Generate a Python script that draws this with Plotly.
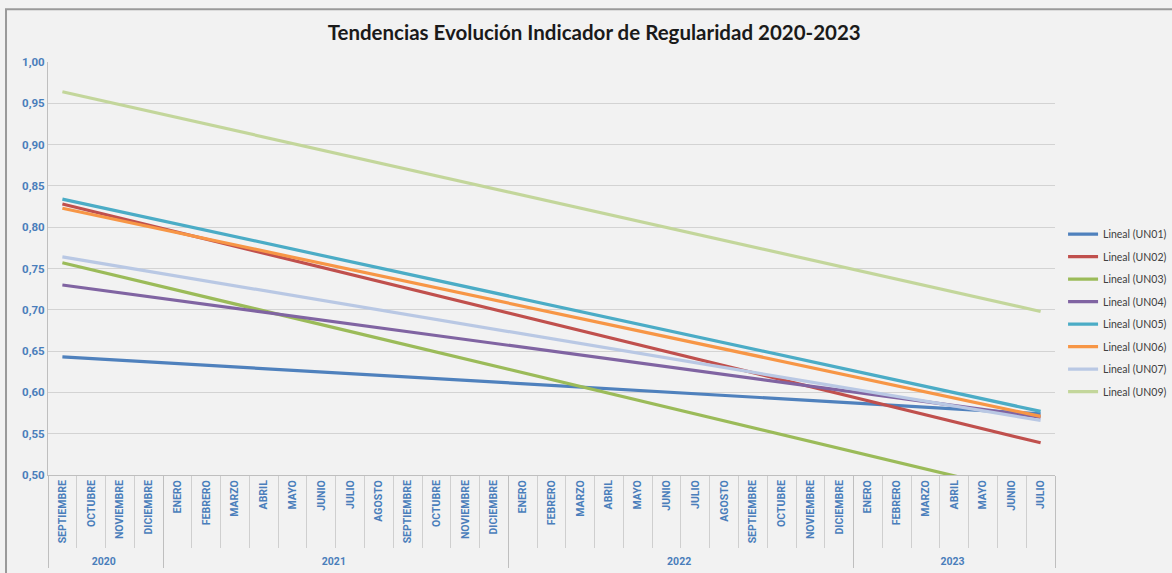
import plotly.graph_objects as go

years = ["2020"] * 4 + ["2021"] * 12 + ["2022"] * 12 + ["2023"] * 7
months = (["SEPTIEMBRE", "OCTUBRE", "NOVIEMBRE", "DICIEMBRE"]
          + ["ENERO", "FEBRERO", "MARZO", "ABRIL", "MAYO", "JUNIO", "JULIO",
             "AGOSTO", "SEPTIEMBRE", "OCTUBRE", "NOVIEMBRE", "DICIEMBRE"] * 2
          + ["ENERO", "FEBRERO", "MARZO", "ABRIL", "MAYO", "JUNIO", "JULIO"])

series_names = ["Lineal (UN01)", "Lineal (UN02)", "Lineal (UN03)", "Lineal (UN04)",
                "Lineal (UN05)", "Lineal (UN06)", "Lineal (UN07)", "Lineal (UN09)"]
start_values = [0.643, 0.828, 0.757, 0.730, 0.834, 0.823, 0.764, 0.964]
end_values = [0.574, 0.539, 0.474, 0.570, 0.577, 0.571, 0.566, 0.698]
colors = ["#4f81bd", "#c0504d", "#9bbb59", "#8064a2", "#4bacc6", "#f79646", "#b9c8e4", "#c3d69b"]

# make each month label unique per year (invisible zero-width suffix) so the
# multicategory axis keeps chronological order
year_list = sorted(set(years))
inner = [m + "\u200b" * year_list.index(y) for y, m in zip(years, months)]

fig = go.Figure()
fig.add_trace(go.Scatter(x=[years, inner], y=[None] * len(inner), mode="lines",
                         showlegend=False, hoverinfo="skip"))

for i, name in enumerate(series_names):
    fig.add_trace(go.Scatter(
        x=[[years[0], years[-1]], [inner[0], inner[-1]]],
        y=[start_values[i], end_values[i]],
        mode="lines", name=name, legendgroup=name,
        line=dict(color=colors[i], width=3.2),
    ))

lab_font = "Roboto, sans-serif"

fig.update_layout(
    width=1172, height=573,
    margin=dict(l=48, r=117, t=62, b=98, autoexpand=False),
    paper_bgcolor="#f2f2f2", plot_bgcolor="#f2f2f2",
    separators=",.",
    font=dict(family="Lato, Open Sans, sans-serif", color="#404040"),
    title=dict(text="<b>Tendencias Evolución Indicador de Regularidad 2020-2023</b>",
               x=0.507, xanchor="center", y=0.942, yanchor="middle",
               font=dict(size=20.5, color="#1a1a1a")),
    legend=dict(x=1.008, xanchor="left", y=0.392, yanchor="middle",
                font=dict(size=10.5, color="#404040"), tracegroupgap=3.5,
                itemwidth=30, bgcolor="rgba(0,0,0,0)"),
    showlegend=True,
)

fig.update_xaxes(
    type="multicategory",
    range=[-0.5, len(inner) - 0.5],
    tickangle=-90,
    tickfont=dict(size=10.5, color="#4a7ebb", family=lab_font, weight="bold"),
    ticks="outside", ticklen=72, tickcolor="#cfcfcf", tickwidth=1,
    showline=True, linecolor="#bfbfbf", linewidth=1,
    showdividers=True, dividercolor="#bfbfbf", dividerwidth=1,
    showgrid=False, automargin=False,
)
fig.update_yaxes(
    range=[0.5, 1.0], dtick=0.05, tickformat=".2f",
    tickfont=dict(size=11.5, color="#4a7ebb", family=lab_font, weight="bold"),
    showgrid=True, gridcolor="#d3d3d3", gridwidth=1.3,
    showline=True, linecolor="#bfbfbf", linewidth=1,
    zeroline=False, ticks="", automargin=False,
)

fig.add_shape(type="rect", xref="paper", yref="paper", x0=-0.0417, x1=1.2, y0=-0.3, y1=1.128,
              line=dict(color="#9a9a9a", width=2), layer="below")

fig.write_html("out.html")
